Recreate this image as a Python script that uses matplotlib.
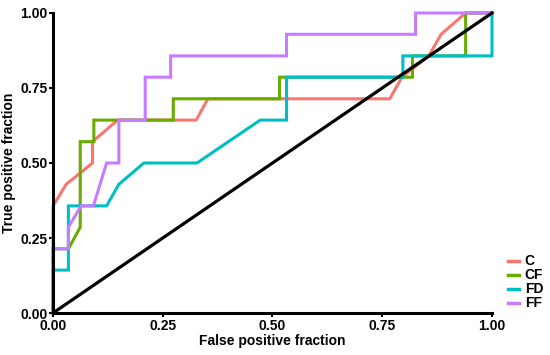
import numpy as np
import matplotlib.pyplot as plt

plt.rcParams['font.family'] = ['Liberation Sans', 'DejaVu Sans']

# ROC curve points (false positive fraction, true positive fraction)
c_fpr = [0, 0, 0.030, 0.090, 0.090, 0.147, 0.326, 0.353, 0.767, 0.795, 0.856, 0.884, 0.940, 1.0]
c_tpr = [0, 0.357, 0.429, 0.500, 0.571, 0.643, 0.643, 0.714, 0.714, 0.786, 0.857, 0.929, 1.0, 1.0]

cf_fpr = [0, 0, 0.035, 0.062, 0.062, 0.093, 0.093, 0.274, 0.274, 0.516, 0.516, 0.819, 0.819, 0.940, 0.940, 1.0]
cf_tpr = [0, 0.214, 0.214, 0.286, 0.571, 0.571, 0.643, 0.643, 0.714, 0.714, 0.786, 0.786, 0.857, 0.857, 1.0, 1.0]

fd_fpr = [0, 0, 0.035, 0.035, 0.122, 0.150, 0.207, 0.328, 0.472, 0.532, 0.532, 0.797, 0.797, 1.0, 1.0]
fd_tpr = [0, 0.143, 0.143, 0.357, 0.357, 0.429, 0.500, 0.500, 0.643, 0.643, 0.786, 0.786, 0.857, 0.857, 1.0]

ff_fpr = [0, 0, 0.035, 0.035, 0.064, 0.092, 0.122, 0.150, 0.150, 0.210, 0.210, 0.268, 0.268, 0.532, 0.532, 0.826, 0.826, 1.0]
ff_tpr = [0, 0.214, 0.214, 0.286, 0.357, 0.357, 0.500, 0.500, 0.643, 0.643, 0.786, 0.786, 0.857, 0.857, 0.929, 0.929, 1.0, 1.0]

groups = ['C', 'CF', 'FD', 'FF']
colores = ['#F8766D', '#6AAB00', '#00BFC4', '#C77CFF']
curvas = [(c_fpr, c_tpr), (cf_fpr, cf_tpr), (fd_fpr, fd_tpr), (ff_fpr, ff_tpr)]
tick_labels = ['0.00', '0.25', '0.50', '0.75', '1.00']

fig = plt.figure(figsize=(5.5, 3.55), dpi=100)
ax = fig.add_axes([0.0964, 0.1183, 0.7981, 0.8451])

for (fx, ty), nombre, col in zip(curvas, groups, colores):
    ax.plot(fx, ty, color=col, lw=2.2, label=nombre, clip_on=False, solid_joinstyle='miter')

# linea de referencia
ax.plot([0, 1], [0, 1], color='black', lw=2.3, clip_on=False, zorder=5)

ax.set_xlim(0, 1)
ax.set_ylim(0, 1)
ticks = [0, 0.25, 0.5, 0.75, 1.0]
ax.set_xticks(ticks)
ax.set_yticks(ticks)
ax.set_xticklabels(tick_labels, fontweight='bold', fontsize=10)
ax.set_yticklabels(tick_labels, fontweight='bold', fontsize=10)
ax.tick_params(length=3, width=1.5, pad=1, color='black')

for s in ['top', 'right']:
    ax.spines[s].set_visible(False)
for s in ['left', 'bottom']:
    ax.spines[s].set_linewidth(2.2)

ax.set_xlabel('False positive fraction', fontweight='bold', fontsize=10, labelpad=1)
ax.set_ylabel('True positive fraction', fontweight='bold', fontsize=10, labelpad=3)

leg = ax.legend(loc='lower left', bbox_to_anchor=(1.024, -0.01), frameon=False,
                prop={'weight': 'bold', 'size': 10}, handlelength=0.8,
                handletextpad=0.4, labelspacing=0.0, borderaxespad=0)
for h in leg.get_lines():
    h.set_linewidth(2.5)

fig.savefig('out.png', dpi=100)
